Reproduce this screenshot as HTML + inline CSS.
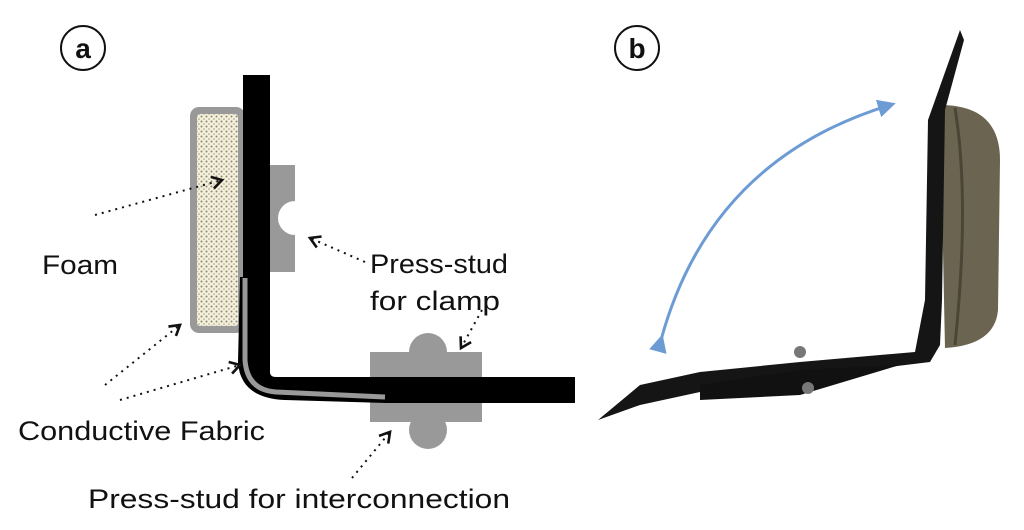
<!DOCTYPE html>
<html><head><style>
body{margin:0;background:#fff;width:1024px;height:530px;overflow:hidden}
svg{display:block}
text{font-family:"Liberation Sans",sans-serif;fill:#111}
</style></head><body>
<svg width="1024" height="530" viewBox="0 0 1024 530">
<defs>
<pattern id="dots" width="5" height="5" patternUnits="userSpaceOnUse">
<rect width="5" height="5" fill="#f4f0dc"/><circle cx="1.5" cy="1.5" r="1" fill="#8a8a70"/><circle cx="4" cy="4" r="0.8" fill="#a09c80"/>
</pattern>
<marker id="ah" markerWidth="8" markerHeight="8" refX="6" refY="4" orient="auto"><path d="M1,1 L6,4 L1,7" fill="none" stroke="#111" stroke-width="1.3"/></marker>
<marker id="bh" markerWidth="6" markerHeight="6" refX="4" refY="3" orient="auto" markerUnits="strokeWidth"><path d="M0,0 L6,3 L0,6 z" fill="#6d9bd4"/></marker>
</defs>
<circle cx="83" cy="48" r="22" fill="#fff" stroke="#111" stroke-width="2"/>
<text x="83" y="58" font-size="28" font-weight="bold" text-anchor="middle">a</text>
<circle cx="637" cy="48" r="22" fill="#fff" stroke="#111" stroke-width="2"/>
<text x="637" y="58" font-size="28" font-weight="bold" text-anchor="middle">b</text>

<rect x="190" y="107" width="55" height="226" rx="9" fill="#999"/>
<rect x="197" y="114" width="41" height="212" rx="3" fill="url(#dots)"/>
<path d="M270 165 H295 V201 A17 17 0 0 0 295 235 V272 H270 Z" fill="#999"/>
<!-- interconnect stud (behind strap) -->
<circle cx="428" cy="352" r="19" fill="#999"/>
<circle cx="428" cy="430" r="19" fill="#999"/>
<rect x="370" y="352" width="112" height="70" fill="#999"/>
<!-- strap -->
<path d="M243 75 H270 V372 Q270 377 276 377 H575 V403 H387 L285 400 Q240 398 238 362 L240 277 H243 Z" fill="#000"/>
<path d="M245 278 V360 Q247 390 276 392 L385 397" fill="none" stroke="#999" stroke-width="5"/>

<g stroke="#111" stroke-width="2" stroke-dasharray="2 5" fill="none" marker-end="url(#ah)">
<path d="M95 215 L222 180"/>
<path d="M365 262 L310 238"/>
<path d="M482 310 L461 348"/>
<path d="M105 385 L180 325"/>
<path d="M120 400 L240 365"/>
<path d="M352 478 L390 432"/>
</g>
<text x="42" y="274" font-size="27" textLength="76" lengthAdjust="spacingAndGlyphs">Foam</text>
<text x="370" y="273" font-size="27" textLength="138" lengthAdjust="spacingAndGlyphs">Press-stud</text>
<text x="370" y="310" font-size="27" textLength="130" lengthAdjust="spacingAndGlyphs">for  clamp</text>
<text x="18" y="440" font-size="27" textLength="247" lengthAdjust="spacingAndGlyphs">Conductive Fabric</text>
<text x="88" y="508" font-size="27" textLength="422" lengthAdjust="spacingAndGlyphs">Press-stud for interconnection</text>

<path d="M940 105 Q1000 105 1000 160 L998 310 Q995 345 945 348 Z" fill="#6b6450"/>
<path d="M955 108 Q970 200 955 345" stroke="#4a4535" stroke-width="3" fill="none"/>
<path d="M960 30 L964 40 L945 110 L942 300 L940 345 L930 362 L800 378 L700 392 L640 405 L598 420 L640 385 L700 372 L800 362 L915 352 L925 300 L928 120 Z" fill="#151515"/>
<path d="M700 385 L800 370 L900 365 L800 395 L700 400 Z" fill="#111"/>
<circle cx="800" cy="352" r="6" fill="#777"/>
<circle cx="808" cy="388" r="6" fill="#777"/>
<path d="M661 340 Q710 160 890 105" fill="none" stroke="#6d9bd4" stroke-width="3" marker-start="url(#bh)" marker-end="url(#bh)"/>
</svg>
</body></html>
